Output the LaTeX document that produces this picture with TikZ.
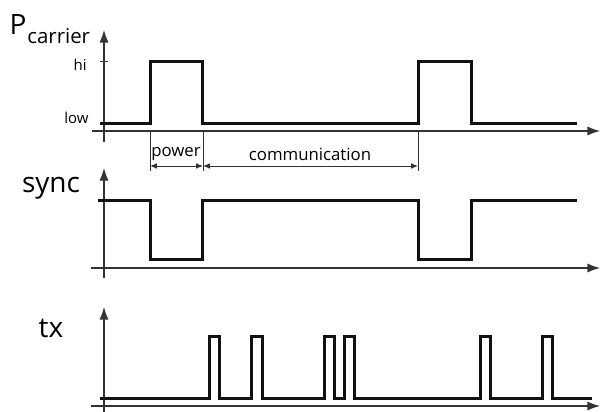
\documentclass[tikz,border=0pt]{standalone}
\usepackage{fontspec}
\setmainfont{Open Sans}
\usepackage{tikz}
\usetikzlibrary{arrows.meta,positioning}
\definecolor{inkblack}{HTML}{111111}
\definecolor{axisgrey}{HTML}{333333}
\tikzset{
  axisline/.style={-{Latex[length=2.2mm,width=1.6mm]}, line width=0.6pt, color=axisgrey},
  signal/.style={line width=1.5pt, color=inkblack, line join=miter},
  marker/.style={line width=0.5pt, color=axisgrey},
  spanarrow/.style={{Latex[length=1.2mm,width=1mm]}-{Latex[length=1.2mm,width=1mm]}, line width=0.5pt, color=axisgrey},
  siglabel/.style={font=\fontsize{14}{14}\selectfont, inner sep=0pt},
  levellabel/.style={font=\fontsize{7.5}{8}\selectfont, inner sep=0pt, anchor=east},
  spanlabel/.style={font=\fontsize{8.4}{10}\selectfont, inner sep=0pt},
}
\begin{document}
\begin{tikzpicture}[x=0.5pt, y=-0.5pt]
  \useasboundingbox (0,0) rectangle (600,412);

  % P carrier
  \node[siglabel, font=\fontsize{14}{14}\selectfont] (plab) at (18,25) {P};
  \node[inner sep=0pt, font=\fontsize{10.2}{11}\selectfont, anchor=west] (clab) at (27,36) {carrier};
  \draw[axisline] (92,131) -- (600,131);
  \draw[axisline] (104,142) -- (104,30);
  \draw[marker] (100,61) -- (108,61);
  \node[levellabel] (hi) at (87,65) {hi};
  \node[levellabel] (low) at (89,118) {low};
  \draw[signal] (100,123) -- (150,123) -- (150,61) -- (202,61) -- (202,123)
    -- (418,123) -- (418,61) -- (471,61) -- (471,123) -- (577,123);

  % power / communication spans
  \coordinate (pw0) at (150,131);
  \coordinate (pw1) at (203,131);
  \coordinate (cm1) at (418,131);
  \foreach \c in {pw0,pw1,cm1}
    \draw[marker] (\c) -- ++(0,40);
  \draw[spanarrow] ([yshift=-17.5pt]pw0) -- ([yshift=-17.5pt]pw1);
  \draw[spanarrow] ([yshift=-17.5pt]pw1) -- ([yshift=-17.5pt]cm1);
  \node[spanlabel] (power) at (176,154) {power};
  \node[spanlabel] (comm) at (310,154) {communication};

  % sync
  \node[siglabel] (sync) at (51,188) {sync};
  \draw[axisline] (91,268) -- (600,268);
  \draw[axisline] (104,278) -- (104,168);
  \draw[signal] (98,200) -- (150,200) -- (150,259) -- (202,259) -- (202,200)
    -- (418,200) -- (418,259) -- (471,259) -- (471,200) -- (577,200);

  % tx
  \node[siglabel] (tx) at (51,328) {tx};
  \draw[axisline] (91,406) -- (600,406);
  \draw[axisline] (104,412) -- (104,307);
  \draw[signal] (100,398)
    \foreach \a/\b in {209/219,251/262,324/334,344/354,480/490,542/552}
      { -- (\a,398) -- (\a,336) -- (\b,336) -- (\b,398) }
    -- (592,398);
\end{tikzpicture}
\end{document}
